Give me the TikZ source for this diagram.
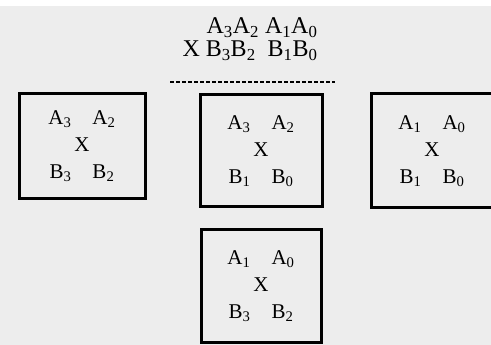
\documentclass[tikz,border=0pt]{standalone}
\usepackage{fontspec}
\setmainfont{Liberation Serif}
\usetikzlibrary{positioning}
\definecolor{pagegray}{HTML}{EDEDED}

\begin{document}
\begin{tikzpicture}[
    x=1pt, y=1pt,
    every node/.style={font=\fontsize{21}{27}\selectfont, align=center},
    block/.style={draw=black, line width=3pt, minimum width=122pt, minimum height=112pt, inner sep=0pt},
    rule/.style={line width=1.8pt, dash pattern=on 4pt off 2pt}
  ]
    % Page and background
    \useasboundingbox (0,0) rectangle (491,345);
    \fill[pagegray] (0,0) rectangle (491,339);

    % Operands
    \node[anchor=east, align=right, font=\fontsize{24}{23}\selectfont] (prod) at (321,306)
      {A\textsubscript{3}A\textsubscript{2} A\textsubscript{1}A\textsubscript{0}\\
       X B\textsubscript{3}B\textsubscript{2}\enspace B\textsubscript{1}B\textsubscript{0}};
    \coordinate (rulea) at (170,263);
    \coordinate (ruleb) at (335,263);
    \draw[rule] (rulea) -- (ruleb);

    % Partial products
    \node[block] (mid) at (261,194)
      {A\textsubscript{3}\hspace{1em}A\textsubscript{2}\\ X\\ B\textsubscript{1}\hspace{1em}B\textsubscript{0}};
    \node[block, minimum width=126pt, minimum height=105pt, left=52pt of mid, yshift=5pt] (hi)
      {A\textsubscript{3}\hspace{1em}A\textsubscript{2}\\ X\\ B\textsubscript{3}\hspace{1em}B\textsubscript{2}};
    \node[block, minimum height=114pt, right=46pt of mid] (lo)
      {A\textsubscript{1}\hspace{1em}A\textsubscript{0}\\ X\\ B\textsubscript{1}\hspace{1em}B\textsubscript{0}};
    \node[block, minimum width=120pt, minimum height=113pt, below=20pt of mid] (cross)
      {A\textsubscript{1}\hspace{1em}A\textsubscript{0}\\ X\\ B\textsubscript{3}\hspace{1em}B\textsubscript{2}};
  \end{tikzpicture}
\end{document}
